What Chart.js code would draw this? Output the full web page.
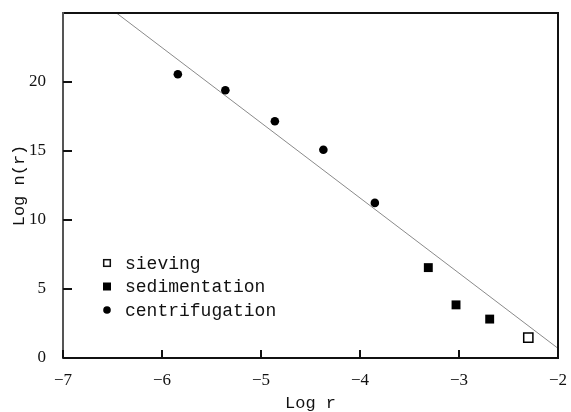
<!DOCTYPE html>
<html>
<head>
<meta charset="utf-8">
<script src="https://cdn.jsdelivr.net/npm/chart.js@4"></script>
<style>
  html, body { margin: 0; padding: 0; background: #fff; }
  #wrap { width: 571px; height: 412px; }
</style>
</head>
<body>
<div id="wrap"><canvas id="c"></canvas></div>
<script>
// values (log r, log n(r))
const sievingX = [-2.30];
const sievingY = [1.47];
const sedimentX = [-3.31, -3.03, -2.69];
const sedimentY = [6.55, 3.85, 2.82];
const centrifX = [-5.84, -5.36, -4.86, -4.37, -3.85];
const centrifY = [20.56, 19.40, 17.16, 15.09, 11.24];
const fitX = [-6.46, -2.0];
const fitY = [25.0, 0.7];
const xTicks = [-7, -6, -5, -4, -3, -2];
const yTicks = [0, 5, 10, 15, 20];

const pts = (xs, ys) => xs.map((x, i) => ({ x: x, y: ys[i] }));
const ink = '#111';
const mono = 'Liberation Mono';
const serif = 'Liberation Serif';

// frame, inward ticks and the legend box in the lower left
const framePlugin = {
  id: 'frame',
  afterDraw(chart) {
    const { ctx, chartArea: a, scales: { x, y } } = chart;
    ctx.save();
    ctx.lineWidth = 2;
    ctx.strokeStyle = ink;
    ctx.beginPath();
    ctx.moveTo(a.left, a.top); ctx.lineTo(a.right, a.top);
    ctx.lineTo(a.right, a.bottom); ctx.lineTo(a.left, a.bottom);
    ctx.stroke();
    ctx.strokeStyle = '#555';
    ctx.beginPath();
    ctx.moveTo(a.left, a.top - 1); ctx.lineTo(a.left, a.bottom + 1);
    ctx.stroke();
    ctx.strokeStyle = ink;
    ctx.beginPath();
    x.ticks.forEach(t => {
      const px = x.getPixelForValue(t.value);
      ctx.moveTo(px, a.bottom);
      ctx.lineTo(px, a.bottom - 8);
    });
    y.ticks.forEach(t => {
      const py = y.getPixelForValue(t.value);
      ctx.moveTo(a.left, py);
      ctx.lineTo(a.left + 9, py);
    });
    ctx.stroke();

    // legend
    const lx = a.left + 44, ly = a.bottom - 95, gap = 23.5;
    ctx.font = '18px "' + mono + '"';
    ctx.fillStyle = ink;
    ctx.textBaseline = 'middle';
    chart.data.datasets.slice(0, 3).forEach((ds, i) => {
      const cy = ly + i * gap;
      ctx.lineWidth = 1.5;
      ctx.fillStyle = '#000';
      if (ds.pointStyle === 'circle') {
        ctx.beginPath(); ctx.arc(lx, cy, 3.8, 0, Math.PI * 2); ctx.fill();
      } else if (ds.pointBackgroundColor === '#fff') {
        ctx.strokeRect(lx - 3.3, cy - 3.3, 6.6, 6.6);
      } else {
        ctx.fillRect(lx - 4, cy - 4, 8, 8);
      }
      ctx.fillStyle = ink;
      ctx.fillText(ds.label, lx + 18, cy + 1);
    });
    ctx.restore();
  }
};

new Chart(document.getElementById('c'), {
  type: 'scatter',
  data: {
    datasets: [
      { label: 'sieving', data: pts(sievingX, sievingY), pointStyle: 'rect',
        pointRadius: 6.5, pointBackgroundColor: '#fff', pointBorderColor: '#000', pointBorderWidth: 1.5 },
      { label: 'sedimentation', data: pts(sedimentX, sedimentY), pointStyle: 'rect',
        pointRadius: 6.3, pointBackgroundColor: '#000', pointBorderColor: '#000', pointBorderWidth: 0 },
      { label: 'centrifugation', data: pts(centrifX, centrifY), pointStyle: 'circle',
        pointRadius: 4.3, pointBackgroundColor: '#000', pointBorderColor: '#000', pointBorderWidth: 0 },
      { label: 'fit', type: 'line', data: pts(fitX, fitY), borderColor: '#8a8a8a',
        borderWidth: 1, pointRadius: 0, fill: false }
    ]
  },
  options: {
    responsive: true,
    maintainAspectRatio: false,
    animation: false,
    layout: { padding: { top: 13, right: 13, left: 0, bottom: 0 } },
    plugins: { legend: { display: false }, tooltip: { enabled: false } },
    scales: {
      x: {
        type: 'linear', min: -7, max: -2,
        afterFit: s => { s.height = 54; s.paddingLeft = 0; s.paddingRight = 0; },
        afterBuildTicks: s => { s.ticks = xTicks.map(v => ({ value: v })); },
        grid: { display: false }, border: { display: false },
        ticks: { color: ink, padding: 4, font: { family: serif, size: 17 },
                 callback: v => String(v).replace('-', '\u2212') },
        title: { display: true, text: 'Log r', color: ink, padding: { top: 0, bottom: 0 },
                 font: { family: mono, size: 17, lineHeight: 1 } }
      },
      y: {
        type: 'linear', min: 0, max: 25,
        afterFit: s => { s.width = 63; s.paddingTop = 0; s.paddingBottom = 0; },
        afterBuildTicks: s => { s.ticks = yTicks.map(v => ({ value: v })); },
        grid: { display: false }, border: { display: false },
        ticks: { color: ink, padding: 9, font: { family: serif, size: 17 } },
        title: { display: true, text: 'Log n(r)', color: ink, padding: { top: 9, bottom: 0 },
                 font: { family: mono, size: 17 } }
      }
    }
  },
  plugins: [framePlugin]
});
</script>
</body>
</html>
